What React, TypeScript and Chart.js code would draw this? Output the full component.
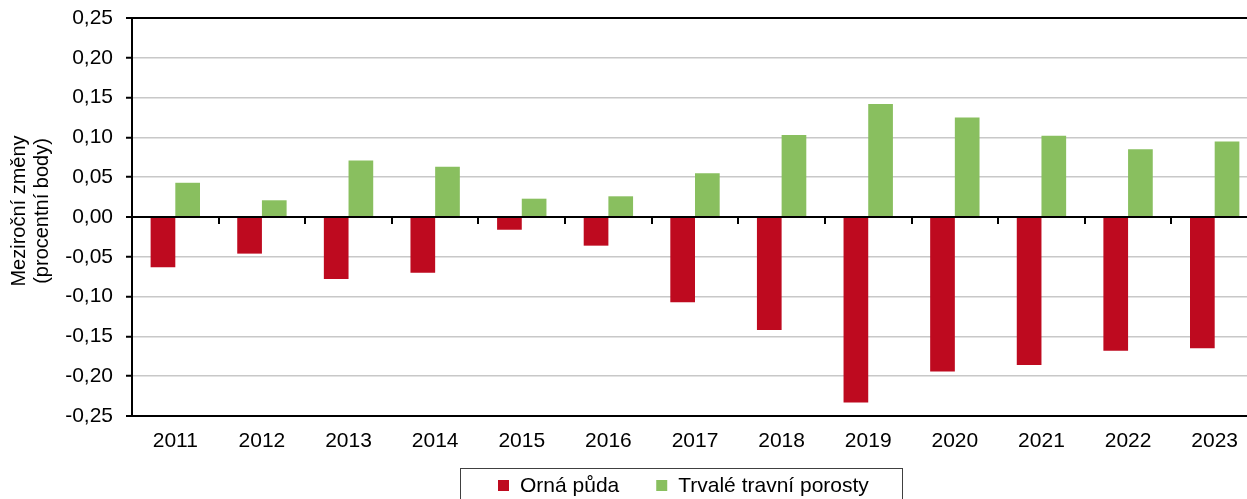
import React, { useEffect, useRef } from 'react';
import { Chart, registerables } from 'chart.js';

Chart.register(...registerables);

const years = ['2011', '2012', '2013', '2014', '2015', '2016', '2017', '2018', '2019', '2020', '2021', '2022', '2023'];
const ornaPuda = [-0.063, -0.046, -0.078, -0.070, -0.016, -0.036, -0.107, -0.142, -0.233, -0.194, -0.186, -0.168, -0.165];
const trvaleTravniPorosty = [0.043, 0.021, 0.071, 0.063, 0.023, 0.026, 0.055, 0.103, 0.142, 0.125, 0.102, 0.085, 0.095];
const seriesNames = ['Orná půda', 'Trvalé travní porosty'];
const seriesColors = ['#BE0A1F', '#89BF5F'];
const yMin = -0.25;
const yMax = 0.25;
const yStep = 0.05;
const yTitleLines = ['Meziroční změny', '(procentní body)'];

const FONT = '"Liberation Sans", Arial, sans-serif';

const isEdge = (v: number) =>
  Math.abs(v) < 1e-9 || Math.abs(Math.abs(v) - 0.25) < 1e-9;

const decorPlugin = {
  id: 'decor',
  afterDatasetsDraw(chart: any) {
    const { ctx, chartArea, scales } = chart;
    const y0 = scales.y.getPixelForValue(0);
    ctx.save();
    ctx.strokeStyle = '#000';
    ctx.lineWidth = 2;
    ctx.beginPath();
    ctx.moveTo(chartArea.left, y0);
    ctx.lineTo(chartArea.right, y0);
    ctx.stroke();
    const n = chart.data.labels.length;
    for (let i = 1; i < n; i++) {
      const x = Math.round((scales.x.getPixelForValue(i - 1) + scales.x.getPixelForValue(i)) / 2);
      ctx.beginPath();
      ctx.moveTo(x, y0);
      ctx.lineTo(x, y0 + 7);
      ctx.stroke();
    }
    ctx.restore();
  },
  afterDraw(chart: any) {
    const { ctx } = chart;
    ctx.save();
    ctx.fillStyle = '#000';
    ctx.font = `20px ${FONT}`;
    ctx.textAlign = 'center';
    ctx.textBaseline = 'middle';
    ctx.translate(0, 211);
    ctx.rotate(-Math.PI / 2);
    ctx.fillText(yTitleLines[0], 0, 19.5);
    ctx.fillText(yTitleLines[1], 0, 42);
    ctx.restore();

    ctx.save();
    ctx.strokeStyle = '#404040';
    ctx.lineWidth = 1;
    ctx.strokeRect(460.5, 468.5, 442, 45);
    ctx.font = `21px ${FONT}`;
    ctx.textBaseline = 'middle';
    ctx.textAlign = 'left';
    let x = 498;
    chart.data.datasets.forEach((ds: any) => {
      ctx.fillStyle = ds.backgroundColor;
      ctx.fillRect(x, 480, 11, 11);
      ctx.fillStyle = '#000';
      ctx.fillText(ds.label, x + 22, 486);
      x = x + 22 + ctx.measureText(ds.label).width + 37;
    });
    ctx.restore();
  },
};

export default function App() {
  const canvasRef = useRef<HTMLCanvasElement | null>(null);

  useEffect(() => {
    document.body.style.margin = '0';
    const canvas = canvasRef.current;
    if (!canvas) return;
    const chart = new Chart(canvas, {
      type: 'bar',
      data: {
        labels: years,
        datasets: [
          {
            label: seriesNames[0],
            data: ornaPuda,
            backgroundColor: seriesColors[0],
            borderWidth: 0,
            categoryPercentage: 0.57,
            barPercentage: 1,
          },
          {
            label: seriesNames[1],
            data: trvaleTravniPorosty,
            backgroundColor: seriesColors[1],
            borderWidth: 0,
            categoryPercentage: 0.57,
            barPercentage: 1,
          },
        ],
      },
      options: {
        responsive: false,
        animation: false,
        devicePixelRatio: 1,
        layout: { padding: { top: 18, right: 3, bottom: 0, left: 0 } },
        plugins: {
          legend: { display: false },
          tooltip: { enabled: false },
          title: { display: false },
        },
        scales: {
          x: {
            grid: { display: false, drawTicks: false },
            border: { display: false },
            ticks: {
              color: '#000',
              font: { family: FONT, size: 21 },
              padding: 13,
              maxRotation: 0,
              autoSkip: false,
            },
            afterFit: (scale: any) => {
              scale.height = 83;
              scale.paddingLeft = 0;
              scale.paddingRight = 0;
            },
          },
          y: {
            min: yMin,
            max: yMax,
            grid: {
              color: (c: any) => (isEdge(c.tick.value) ? '#000' : '#c8c8c8'),
              lineWidth: (c: any) => (isEdge(c.tick.value) ? 2 : 1.5),
              tickColor: '#000',
              tickWidth: 2,
              tickLength: 6,
              drawTicks: true,
            },
            border: { display: true, color: '#000', width: 2 },
            ticks: {
              stepSize: yStep,
              color: '#000',
              font: { family: FONT, size: 21 },
              padding: 13,
              callback: (v: any) => Number(v).toFixed(2).replace('-0,00', '0,00').replace('.', ','),
            },
            afterFit: (scale: any) => {
              scale.width = 132;
              scale.paddingTop = 0;
              scale.paddingBottom = 0;
            },
          },
        },
      },
      plugins: [decorPlugin],
    });
    return () => chart.destroy();
  }, []);

  return (
    <div
      style={{
        position: 'absolute',
        left: 0,
        top: 0,
        width: 1247,
        height: 499,
        overflow: 'hidden',
        background: '#fff',
      }}
    >
      <canvas ref={canvasRef} width={1261} height={499} style={{ display: 'block' }} />
    </div>
  );
}
